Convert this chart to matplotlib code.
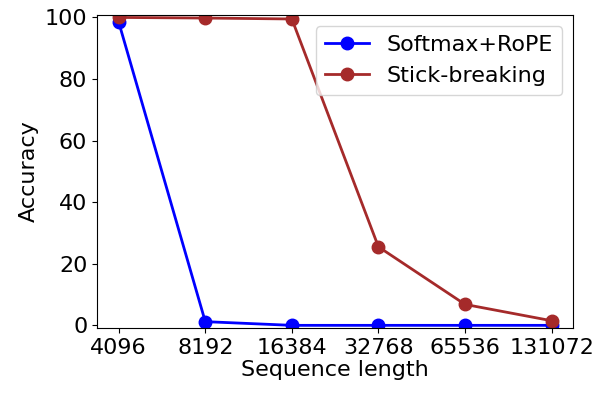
import numpy as np
import matplotlib
matplotlib.use('Agg')
import matplotlib.pyplot as plt

seq_labels = ['4096', '8192', '16384', '32768', '65536', '131072']
softmax_rope = [98.5, 1.2, 0.0, 0.0, 0.0, 0.0]
stick_breaking = [100.0, 99.8, 99.5, 25.5, 6.8, 1.5]

plt.rcParams['font.size'] = 16

fig = plt.figure(figsize=(5.99, 3.94), dpi=100)
ax = fig.add_axes([0.162, 0.168, 0.795, 0.794])

x = np.arange(len(seq_labels))
ax.plot(x, softmax_rope, '-o', color='blue', linewidth=2, markersize=9, label='Softmax+RoPE')
ax.plot(x, stick_breaking, '-o', color='#a52a2a', linewidth=2, markersize=9, label='Stick-breaking')

ax.set_xticks(x)
ax.set_xticklabels(seq_labels)
ax.set_ylim(-0.8, 100.8)
ax.set_yticks([0, 20, 40, 60, 80, 100])
ax.set_xlabel('Sequence length', labelpad=2)
ax.set_ylabel('Accuracy')
ax.legend(loc='upper right')

fig.savefig('out.png', dpi=100)
